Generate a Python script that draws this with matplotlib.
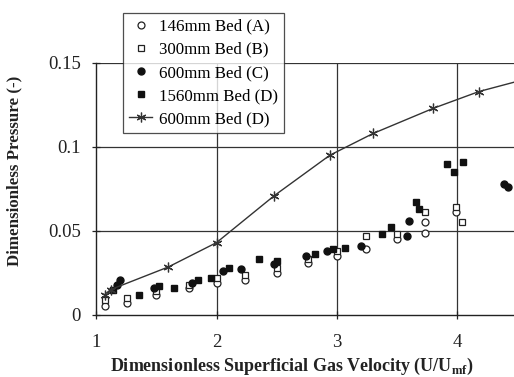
import matplotlib
matplotlib.use("Agg")
import matplotlib.pyplot as plt

plt.rcParams["font.family"] = ["Liberation Serif", "DejaVu Serif"]
plt.rcParams["mathtext.fontset"] = "custom"
plt.rcParams["mathtext.rm"] = "Liberation Serif"
plt.rcParams["mathtext.bf"] = "Liberation Serif:bold"

# 146mm bed (A) - open circles
a_x = [1.07, 1.26, 1.50, 1.77, 2.00, 2.24, 2.50, 2.76, 3.00, 3.24, 3.50, 3.73, 3.73, 3.99]
a_y = [0.005, 0.007, 0.012, 0.016, 0.019, 0.021, 0.025, 0.031, 0.035, 0.039, 0.045, 0.049, 0.055, 0.061]

# 300mm bed (B) - open squares
b_x = [1.07, 1.26, 1.50, 1.77, 2.00, 2.24, 2.50, 2.76, 3.00, 3.24, 3.50, 3.73, 3.99, 4.04]
b_y = [0.009, 0.010, 0.014, 0.018, 0.022, 0.024, 0.028, 0.033, 0.038, 0.047, 0.048, 0.061, 0.064, 0.055]

# 600mm bed (C) - filled circles
c_x = [1.17, 1.20, 1.48, 1.80, 2.05, 2.20, 2.48, 2.74, 2.92, 3.20, 3.58, 3.60, 4.39, 4.42]
c_y = [0.018, 0.021, 0.016, 0.019, 0.026, 0.027, 0.030, 0.035, 0.038, 0.041, 0.047, 0.056, 0.078, 0.076]

# 1560mm bed (D) - filled squares
d_x = [1.14, 1.36, 1.52, 1.65, 1.85, 1.95, 2.10, 2.35, 2.50, 2.82, 2.97, 3.07,
       3.37, 3.45, 3.66, 3.68, 3.91, 3.97, 4.05]
d_y = [0.015, 0.012, 0.017, 0.016, 0.021, 0.022, 0.028, 0.033, 0.032, 0.036, 0.039, 0.040,
       0.048, 0.052, 0.067, 0.063, 0.090, 0.085, 0.091]

# 600mm bed (D) - line with star markers
s_x = [1.07, 1.12, 1.60, 2.00, 2.48, 2.94, 3.30, 3.80, 4.18, 4.60]
s_y = [0.012, 0.015, 0.0285, 0.043, 0.071, 0.095, 0.108, 0.123, 0.133, 0.141]

x_ticks = [1, 2, 3, 4]
y_ticks = [0, 0.05, 0.1, 0.15]
y_tick_labels = ["0", "0.05", "0.1", "0.15"]

fig = plt.figure(figsize=(5.14, 3.77), dpi=100)
ax = fig.add_axes([0.187, 0.165, 0.813, 0.668])

ax.set_xlim(1, 4.47)
ax.set_ylim(0, 0.15)
ax.set_xticks(x_ticks)
ax.set_yticks(y_ticks)
ax.set_yticklabels(y_tick_labels)

for v in x_ticks[1:]:
    ax.axvline(v, color="#333333", lw=0.9, zorder=1)
for v in y_ticks[1:]:
    ax.axhline(v, color="#333333", lw=0.9, zorder=1)

ms = 5
ax.plot(a_x, a_y, "o", mfc="white", mec="#222222", mew=0.9, ms=ms,
        ls="none", label="146mm Bed (A)", zorder=3)
ax.plot(b_x, b_y, "s", mfc="white", mec="#222222", mew=0.9, ms=ms,
        ls="none", label="300mm Bed (B)", zorder=3)
ax.plot(c_x, c_y, "o", mfc="#111111", mec="#111111", ms=ms,
        ls="none", label="600mm Bed (C)", zorder=4)
ax.plot(d_x, d_y, "s", mfc="#111111", mec="#111111", ms=ms,
        ls="none", label="1560mm Bed (D)", zorder=4)
ax.plot(s_x, s_y, color="#333333", lw=1.0, marker=(6, 2, 0), ms=7, mew=0.9,
        mec="#333333", label="600mm Bed (D)", zorder=5)

for side in ["top", "right"]:
    ax.spines[side].set_visible(False)
for side in ["left", "bottom"]:
    ax.spines[side].set_color("#222222")
    ax.spines[side].set_linewidth(1.0)

ax.tick_params(axis="both", direction="inout", length=6, width=0.9,
               color="#222222", labelsize=13.5, labelcolor="#222222")
ax.tick_params(axis="x", pad=11)
ax.tick_params(axis="y", pad=8)

ax.set_xlabel(r"Dimensionless Superficial Gas Velocity (U/U$_{\mathbf{mf}}$)",
              fontsize=13, fontweight="bold", color="#222222")
ax.set_ylabel("Dimensionless Pressure (-)", fontsize=12.2, fontweight="bold",
              color="#222222")
ax.xaxis.set_label_coords(0.469, -0.162)
ax.yaxis.set_label_coords(-0.177, 0.57)

leg = ax.legend(loc="upper left", bbox_to_anchor=(0.239, 0.966),
                bbox_transform=fig.transFigure, fontsize=12.2,
                frameon=True, fancybox=False, edgecolor="#222222",
                borderpad=0.35, labelspacing=0.42, handlelength=1.4,
                handletextpad=0.4, borderaxespad=0)
leg.get_frame().set_linewidth(0.9)

fig.savefig("out.png", dpi=100)
